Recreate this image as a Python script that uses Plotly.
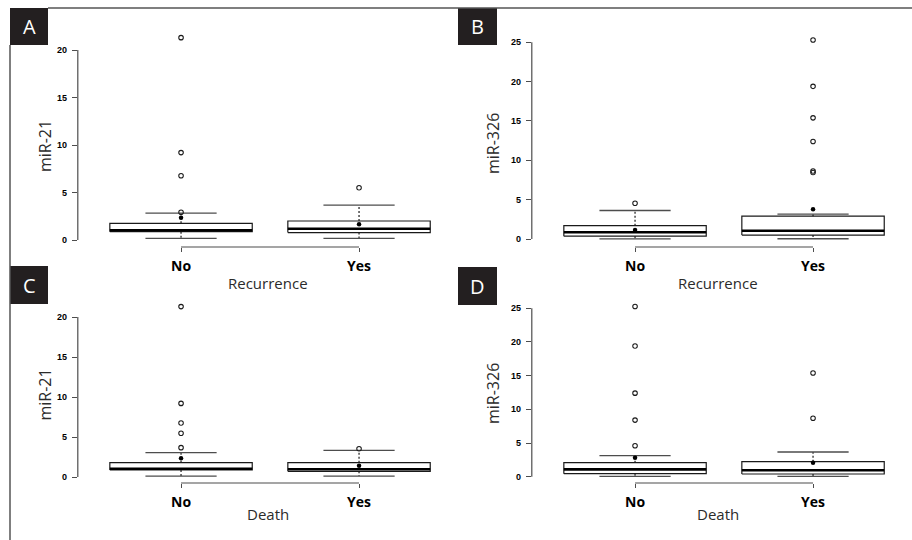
import plotly.graph_objects as go

W, H = 912, 540

categories = ["No", "Yes"]
positions = [1, 2]

# Panel A: miR-21 by Recurrence
A_q1 = [0.88, 0.78]
A_med = [1.02, 1.18]
A_q3 = [1.76, 2.0]
A_lo = [0.18, 0.18]
A_hi = [2.82, 3.68]
A_mean = [2.35, 1.65]
A_out = [[21.3, 9.2, 6.77, 2.92], [5.5]]

# Panel B: miR-326 by Recurrence
B_q1 = [0.36, 0.5]
B_med = [0.85, 1.05]
B_q3 = [1.69, 2.9]
B_lo = [0.02, 0.03]
B_hi = [3.62, 3.16]
B_mean = [1.14, 3.77]
B_out = [[4.55], [25.3, 19.4, 15.4, 12.4, 8.64, 8.45]]

# Panel C: miR-21 by Death
C_q1 = [0.875, 0.71]
C_med = [1.04, 0.96]
C_q3 = [1.79, 1.79]
C_lo = [0.12, 0.12]
C_hi = [3.04, 3.33]
C_mean = [2.33, 1.42]
C_out = [[21.3, 9.2, 6.75, 5.46, 3.67], [3.54]]

# Panel D: miR-326 by Death
D_q1 = [0.45, 0.4]
D_med = [1.09, 0.95]
D_q3 = [2.08, 2.23]
D_lo = [0.05, 0.05]
D_hi = [3.12, 3.67]
D_mean = [2.82, 2.08]
D_out = [[25.26, 19.4, 12.4, 8.4, 4.6], [15.4, 8.67]]

ticks_21 = [0, 5, 10, 15, 20]
ticks_326 = [0, 5, 10, 15, 20, 25]

panels = [
    dict(key="A", ytitle="miR-21", xtitle="Recurrence", ticks=ticks_21,
         q1=A_q1, med=A_med, q3=A_q3, lo=A_lo, hi=A_hi, mean=A_mean, out=A_out,
         left=77.8, right=462.0, top=30.6, bottom=247.0, zero=240.0, unit=9.5,
         lab=(10, 48, 8, 45), ytp=(45, 146), xtp=(268, 283)),
    dict(key="B", ytitle="miR-326", xtitle="Recurrence", ticks=ticks_326,
         q1=B_q1, med=B_med, q3=B_q3, lo=B_lo, hi=B_hi, mean=B_mean, out=B_out,
         left=531.8, right=912.0, top=32.0, bottom=247.0, zero=239.0, unit=7.868,
         lab=(458, 497, 8, 45), ytp=(493, 144), xtp=(718, 283)),
    dict(key="C", ytitle="miR-21", xtitle="Death", ticks=ticks_21,
         q1=C_q1, med=C_med, q3=C_q3, lo=C_lo, hi=C_hi, mean=C_mean, out=C_out,
         left=77.8, right=462.0, top=300.0, bottom=483.0, zero=477.0, unit=8.0,
         lab=(10, 48, 266, 304), ytp=(44.5, 395), xtp=(268, 514)),
    dict(key="D", ytitle="miR-326", xtitle="Death", ticks=ticks_326,
         q1=D_q1, med=D_med, q3=D_q3, lo=D_lo, hi=D_hi, mean=D_mean, out=D_out,
         left=531.8, right=912.0, top=300.0, bottom=483.0, zero=476.7, unit=6.736,
         lab=(458, 497, 267, 305), ytp=(493, 394), xtp=(718, 514)),
]

UNIT_X = 178.0
BOXHALF = 0.4
CAPHALF = 0.2
INK = "#1a1a1a"
GRAYLINE = "#4d4d4d"
TEXT = "#2b2b2b"

fig = go.Figure()
shapes = []
annotations = []
layout_axes = {}

for i, p in enumerate(panels):
    n = "" if i == 0 else str(i + 1)
    xa, ya = "x" + n, "y" + n
    xr = [0.42, 0.42 + (p["right"] - p["left"]) / UNIT_X]
    yr = [(p["zero"] - p["bottom"]) / p["unit"], (p["zero"] - p["top"]) / p["unit"]]
    xdom = [p["left"] / W, min(1.0, p["right"] / W)]
    ydom = [1 - p["bottom"] / H, 1 - p["top"] / H]

    # boxes
    for c, q1, q3 in zip(positions, p["q1"], p["q3"]):
        fig.add_trace(go.Scatter(
            x=[c - BOXHALF, c + BOXHALF, c + BOXHALF, c - BOXHALF, c - BOXHALF],
            y=[q1, q1, q3, q3, q1], mode="lines", fill="toself",
            fillcolor="white", line=dict(color=INK, width=1.2),
            xaxis=xa, yaxis=ya, showlegend=False, hoverinfo="skip"))
    # whiskers (dashed)
    wx, wy = [], []
    for c, q1, q3, lo, hi in zip(positions, p["q1"], p["q3"], p["lo"], p["hi"]):
        wx += [c, c, None, c, c, None]
        wy += [q3, hi, None, q1, lo, None]
    fig.add_trace(go.Scatter(x=wx, y=wy, mode="lines",
                             line=dict(color=INK, width=1.2, dash="2px,2px"),
                             xaxis=xa, yaxis=ya, showlegend=False, hoverinfo="skip"))
    # caps
    cx, cy = [], []
    for c, lo, hi in zip(positions, p["lo"], p["hi"]):
        cx += [c - CAPHALF, c + CAPHALF, None, c - CAPHALF, c + CAPHALF, None]
        cy += [hi, hi, None, lo, lo, None]
    fig.add_trace(go.Scatter(x=cx, y=cy, mode="lines",
                             line=dict(color=GRAYLINE, width=1.3),
                             xaxis=xa, yaxis=ya, showlegend=False, hoverinfo="skip"))
    # medians
    mx, my = [], []
    for c, m in zip(positions, p["med"]):
        mx += [c - BOXHALF, c + BOXHALF, None]
        my += [m, m, None]
    fig.add_trace(go.Scatter(x=mx, y=my, mode="lines",
                             line=dict(color="black", width=2.6),
                             xaxis=xa, yaxis=ya, showlegend=False, hoverinfo="skip"))
    # outliers
    ox, oy = [], []
    for c, outs in zip(positions, p["out"]):
        ox += [c] * len(outs)
        oy += outs
    fig.add_trace(go.Scatter(x=ox, y=oy, mode="markers",
                             marker=dict(symbol="circle-open", size=4.5, color=INK,
                                         line=dict(width=1.1, color=INK)),
                             cliponaxis=False,
                             xaxis=xa, yaxis=ya, showlegend=False, hoverinfo="skip"))
    # means
    fig.add_trace(go.Scatter(x=positions, y=p["mean"], mode="markers",
                             marker=dict(symbol="circle", size=4.5, color="black"),
                             cliponaxis=False,
                             xaxis=xa, yaxis=ya, showlegend=False, hoverinfo="skip"))

    layout_axes["xaxis" + n] = dict(
        domain=xdom, range=xr, anchor=ya, showgrid=False, zeroline=False,
        showline=False, ticks="outside", ticklen=4, tickwidth=1, tickcolor=GRAYLINE,
        tickvals=positions, ticktext=["<b>%s</b>" % s for s in categories],
        tickfont=dict(family="Open Sans", size=14, color="black"),
        ticklabelstandoff=2, fixedrange=True)
    layout_axes["yaxis" + n] = dict(
        domain=ydom, range=yr, anchor=xa, showgrid=False, zeroline=False,
        showline=False, ticks="outside", ticklen=5, tickwidth=1, tickcolor=GRAYLINE,
        tickvals=p["ticks"], ticktext=["<b>%d</b>" % t for t in p["ticks"]],
        tickfont=dict(family="Liberation Sans", size=9, color="black"),
        ticklabelstandoff=3, fixedrange=True)

    # R-style axis lines spanning ticks / categories only
    shapes.append(dict(type="line", xref="paper", yref=ya,
                       x0=xdom[0], x1=xdom[0], y0=min(p["ticks"]), y1=max(p["ticks"]),
                       line=dict(color=GRAYLINE, width=1.2)))
    shapes.append(dict(type="line", xref=xa, yref="paper",
                       x0=min(positions), x1=max(positions), y0=ydom[0], y1=ydom[0],
                       line=dict(color=GRAYLINE, width=1.2)))

    # panel label
    l, r, t, b = p["lab"]
    shapes.append(dict(type="rect", xref="paper", yref="paper",
                       x0=l / W, x1=r / W, y0=1 - b / H, y1=1 - t / H,
                       fillcolor="#231f20", line=dict(width=0)))
    annotations.append(dict(text=p["key"], xref="paper", yref="paper",
                            x=(l + r) / 2 / W, y=1 - (t + b) / 2 / H,
                            xanchor="center", yanchor="middle", showarrow=False,
                            font=dict(family="Open Sans", size=20, color="white")))
    # axis titles
    annotations.append(dict(text=p["ytitle"], xref="paper", yref="paper",
                            x=p["ytp"][0] / W, y=1 - p["ytp"][1] / H, textangle=-90,
                            xanchor="center", yanchor="middle", showarrow=False,
                            font=dict(family="Open Sans", size=16, color=TEXT)))
    annotations.append(dict(text=p["xtitle"], xref="paper", yref="paper",
                            x=p["xtp"][0] / W, y=1 - p["xtp"][1] / H,
                            xanchor="center", yanchor="middle", showarrow=False,
                            font=dict(family="Open Sans", size=15, color=TEXT)))

# frame lines
shapes.append(dict(type="line", xref="paper", yref="paper",
                   x0=48 / W, x1=1, y0=1 - 8 / H, y1=1 - 8 / H,
                   line=dict(color="#555555", width=1.5)))
shapes.append(dict(type="line", xref="paper", yref="paper",
                   x0=10 / W, x1=10 / W, y0=1 - 45 / H, y1=0,
                   line=dict(color="#555555", width=1.5)))

fig.update_layout(width=W, height=H, margin=dict(l=0, r=0, t=0, b=0),
                  paper_bgcolor="white", plot_bgcolor="white",
                  shapes=shapes, annotations=annotations, showlegend=False,
                  **layout_axes)

fig.write_html("out.html")
